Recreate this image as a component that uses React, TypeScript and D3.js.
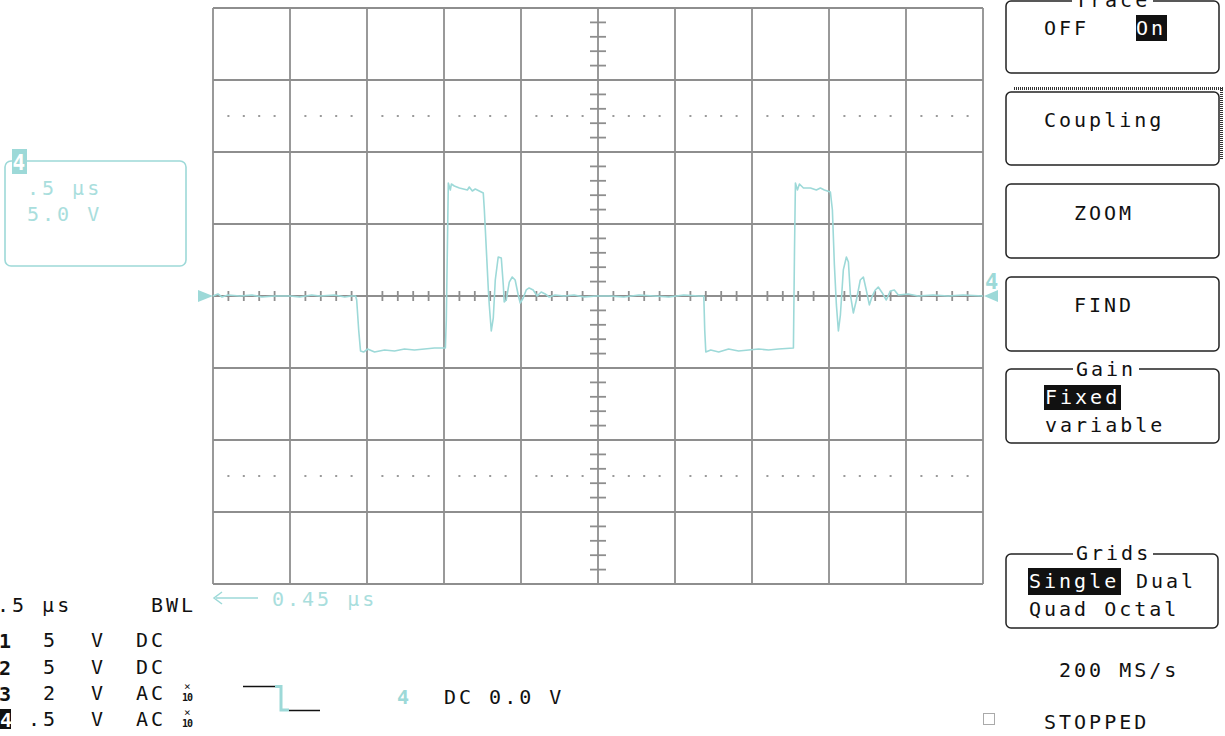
import React, { useLayoutEffect } from "react";
import * as d3 from "d3";

// ---- Trace 4 acquisition (time in ns, amplitude in mV) ----
const timeNs = [
  -2500, -2468, -2442, -2403, -2325, -2247, -2183, -2098, -2001, -1937,
  -1859, -1807, -1710, -1645, -1600, -1574, -1567, -1554, -1542, -1522,
  -1496, -1451, -1386, -1321, -1257, -1192, -1127, -1062, -991, -985,
  -978, -972, -959, -952, -933, -900, -848, -836, -816, -797,
  -771, -745, -738, -725, -712, -706, -693, -680, -667, -648,
  -628, -615, -609, -596, -576, -557, -538, -518, -505, -486,
  -466, -447, -421, -395, -369, -343, -317, -279, -220, -155,
  -91, -7, 71, 168, 266, 363, 460, 557, 654, 687,
  693, 700, 732, 784, 848, 913, 978, 1043, 1108, 1172,
  1269, 1276, 1282, 1295, 1308, 1334, 1380, 1418, 1444, 1470,
  1509, 1522, 1535, 1548, 1561, 1574, 1593, 1613, 1626, 1639,
  1658, 1678, 1703, 1723, 1742, 1762, 1781, 1801, 1820, 1846,
  1872, 1898, 1924, 1950, 2014, 2079, 2176, 2273, 2371, 2500,
];
const trace4mV = [
  0, 14, -7, 7, 0, 7, -7, 0, 0, -7,
  7, 0, 7, -7, 0, 0, -28, -236, -382, -389,
  -368, -389, -375, -382, -368, -375, -368, -361, -361, -167,
  340, 785, 736, 778, 764, 750, 736, 757, 729, 743,
  729, 715, 597, 319, 42, -62, -243, -153, 111, 271,
  264, 76, -42, -28, 97, 132, 111, 7, -49, -14,
  42, 56, 42, 0, 28, 14, -7, 7, 0, 7,
  -7, 0, 0, -7, 7, 0, -7, 7, 0, 0,
  -236, -389, -375, -389, -368, -382, -375, -368, -375, -368,
  -361, 319, 785, 736, 778, 750, 750, 736, 750, 736,
  722, 597, 215, -62, -243, -132, 181, 271, 236, 7,
  -118, -28, 111, 132, 42, -62, 0, 42, 62, 21,
  -28, 35, 42, 7, 14, 0, 7, 0, 7, 0,
];

// ---- Screen settings ----
const timeDomainNs = [-2500, 2500];
const voltDomainMV = [-2000, 2000];
const divTimeNs = 500;
const divVoltMV = 500;
const minorTimeNs = 100;
const minorVoltMV = 100;
const dottedRowsMV = [1250, -1250];

const channelIds = ["1", "2", "3", "4"];
const channelScales = ["5", "5", "2", ".5"];
const channelUnits = ["V", "V", "V", "V"];
const channelCoupling = ["DC", "DC", "AC", "AC"];
const channelProbe = [false, false, true, true];

const FONT = "'DejaVu Sans Mono', monospace";
const TEAL = "#9dd9d8";
const TEAL_TXT = "#a9dedd";
const GRID = "#8e8e8e";

const T = ({ x, y, children, fill = "#111", size = 20, weight = "normal", ls = 3, anchor = "start" }: any) => (
  <text x={x} y={y} fill={fill} fontSize={size} fontWeight={weight} fontFamily={FONT}
    style={{ letterSpacing: `${ls}px` }} textAnchor={anchor}>{children}</text>
);

const Box = ({ x, y, w, h }: any) => (
  <rect x={x} y={y} width={w} height={h} rx={5} ry={5} fill="white" stroke="#222" strokeWidth={1.5} />
);

export default function App() {
  useLayoutEffect(() => {
    document.body.style.margin = "0";
  }, []);

  const x = d3.scaleLinear().domain(timeDomainNs).range([213, 983]);
  const y = d3.scaleLinear().domain(voltDomainMV).range([584, 8]);

  const majorT = d3.range(timeDomainNs[0], timeDomainNs[1] + 1, divTimeNs);
  const majorV = d3.range(voltDomainMV[0], voltDomainMV[1] + 1, divVoltMV);
  const minorT = d3.range(timeDomainNs[0], timeDomainNs[1] + 1, minorTimeNs).filter((t) => t % divTimeNs !== 0);
  const minorV = d3.range(voltDomainMV[0], voltDomainMV[1] + 1, minorVoltMV).filter((v) => v % divVoltMV !== 0);

  const pts: [number, number][] = timeNs.map((t, i) => [t, trace4mV[i]]);
  const line = d3.line<[number, number]>().x((d) => x(d[0])).y((d) => y(d[1]));

  const x0 = x(0);
  const y0 = y(0);
  const rowY = [647, 674, 700, 726];

  return (
    <svg width={1225} height={736} style={{ display: "block", background: "white" }}>
      {/* grid */}
      <g stroke={GRID} strokeWidth={1.8}>
        {majorT.map((t) => (
          <line key={"vt" + t} x1={x(t)} x2={x(t)} y1={y(voltDomainMV[1])} y2={y(voltDomainMV[0])} />
        ))}
        {majorV.map((v) => (
          <line key={"hv" + v} x1={x(timeDomainNs[0])} x2={x(timeDomainNs[1])} y1={y(v)} y2={y(v)} />
        ))}
        {minorT.map((t) => (
          <line key={"mt" + t} x1={x(t)} x2={x(t)} y1={y0 - 5} y2={y0 + 5} />
        ))}
        {minorV.map((v) => (
          <line key={"mv" + v} x1={x0 - 8} x2={x0 + 8} y1={y(v)} y2={y(v)} />
        ))}
      </g>
      <g fill="#9a9a9a">
        {dottedRowsMV.map((v) =>
          minorT.map((t) => <rect key={v + "_" + t} x={x(t) - 1} y={y(v) - 1} width={2} height={2} />)
        )}
      </g>

      {/* trace */}
      <path d={line(pts) || ""} fill="none" stroke={TEAL} strokeWidth={1.6} strokeLinejoin="round" />

      {/* ground markers */}
      <path d={`M${x(timeDomainNs[0]) - 15},${y0 - 6} L${x(timeDomainNs[0])},${y0} L${x(timeDomainNs[0]) - 15},${y0 + 6} Z`} fill={TEAL} />
      <path d={`M${x(timeDomainNs[1]) + 15},${y0 - 6} L${x(timeDomainNs[1]) + 1},${y0} L${x(timeDomainNs[1]) + 15},${y0 + 6} Z`} fill={TEAL} />
      <T x={985} y={289} fill={TEAL} size={22} weight="bold" ls={0}>4</T>

      {/* left info box */}
      <rect x={5} y={161} width={181} height={105} rx={6} ry={6} fill="none" stroke={TEAL} strokeWidth={1.6} />
      <rect x={12} y={149} width={15} height={25} fill={TEAL} />
      <T x={12.5} y={170} fill="white" size={21} weight="bold" ls={0}>4</T>
      <T x={27} y={195} fill={TEAL_TXT}>.5 μs</T>
      <T x={27} y={221} fill={TEAL_TXT}>5.0 V</T>

      {/* bottom-left readouts */}
      <T x={-3} y={612}>.5 μs</T>
      <T x={151} y={612}>BWL</T>
      <line x1={216} x2={258} y1={598} y2={598} stroke={TEAL} strokeWidth={1.5} />
      <path d="M222,592 L214,598 L222,604" fill="none" stroke={TEAL} strokeWidth={1.5} />
      <T x={272} y={606} fill={TEAL_TXT}>0.45 μs</T>

      {channelIds.map((id, i) => (
        <g key={id}>
          {id === "4" ? (
            <g>
              <rect x={0} y={rowY[i] - 17} width={11} height={20} fill="#111" />
              <T x={0} y={rowY[i] + 1} fill="white" weight="bold" ls={0}>{id}</T>
            </g>
          ) : (
            <T x={-1} y={rowY[i] + 1} weight="bold" ls={0}>{id}</T>
          )}
          <T x={channelScales[i].length > 1 ? 28 : 43} y={rowY[i]}>{channelScales[i]}</T>
          <T x={91} y={rowY[i]}>{channelUnits[i]}</T>
          <T x={136} y={rowY[i]}>{channelCoupling[i]}</T>
          {channelProbe[i] && (
            <g>
              <T x={184} y={rowY[i] - 10} size={11} ls={0}>×</T>
              <T x={182} y={rowY[i] + 1} size={10} weight="bold" ls={-1}>10</T>
            </g>
          )}
        </g>
      ))}

      {/* trigger icon */}
      <line x1={243} x2={275} y1={686.5} y2={686.5} stroke="#111" strokeWidth={1.5} />
      <path d="M275,686.5 L281,686.5 L281,710 L289,710" fill="none" stroke={TEAL} strokeWidth={3} />
      <line x1={289} x2={320} y1={710.5} y2={710.5} stroke="#111" strokeWidth={1.5} />
      <T x={397} y={704} fill={TEAL} weight="bold" ls={0}>4</T>
      <T x={444} y={704}>DC 0.0 V</T>

      {/* right menu */}
      <Box x={1006} y={1} w={213} h={72} />
      <rect x={1072} y={-2} width={81} height={8} fill="white" />
      <T x={1075} y={7}>Trace</T>
      <T x={1044} y={35}>OFF</T>
      <rect x={1136} y={15} width={31} height={26} fill="#111" />
      <T x={1136} y={35} fill="white">On</T>

      <g>
        <line x1={1014} x2={1223} y1={88.5} y2={88.5} stroke="#333" strokeWidth={3} strokeDasharray="1,1" />
        <line x1={1221.5} x2={1221.5} y1={88} y2={160} stroke="#333" strokeWidth={3} strokeDasharray="1,1" />
        <Box x={1006} y={92} w={213} h={73} />
      </g>
      <T x={1044} y={127}>Coupling</T>

      <Box x={1006} y={184} w={213} h={74} />
      <T x={1074} y={220}>ZOOM</T>

      <Box x={1006} y={277} w={213} h={74} />
      <T x={1074} y={312}>FIND</T>

      <Box x={1006} y={369} w={213} h={74} />
      <rect x={1073} y={362} width={66} height={12} fill="white" />
      <T x={1076} y={376}>Gain</T>
      <rect x={1044} y={385} width={77} height={25} fill="#111" />
      <T x={1045} y={404} fill="white">Fixed</T>
      <T x={1045} y={432}>variable</T>

      <Box x={1006} y={554} w={212} h={74} />
      <rect x={1073} y={546} width={80} height={12} fill="white" />
      <T x={1076} y={560}>Grids</T>
      <rect x={1028} y={568} width={93} height={27} fill="#111" />
      <T x={1029} y={588} fill="white">Single</T>
      <T x={1136} y={588}>Dual</T>
      <T x={1029} y={616}>Quad Octal</T>

      <T x={1059} y={677}>200 MS/s</T>
      <rect x={983.5} y={713.5} width={11} height={11} fill="none" stroke="#aaa" strokeWidth={1} />
      <T x={1044} y={729}>STOPPED</T>
    </svg>
  );
}
